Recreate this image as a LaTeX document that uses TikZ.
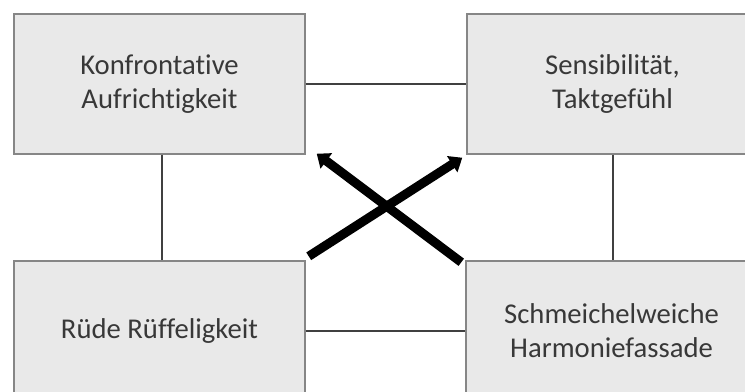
\documentclass[tikz,border=0pt]{standalone}
\usepackage{fontspec}
\setmainfont{Carlito}[Ligatures=NoCommon]
\usetikzlibrary{arrows.meta}
\tikzset{
  feld/.style={draw=gray!95, line width=1.1pt, fill=gray!17, inner sep=0pt,
    minimum width=218.25pt, minimum height=105pt, align=center,
    text=black!78, font=\fontsize{21.5}{25.5}\selectfont},
  verb/.style={draw=black!75, line width=0.8pt},
  kreuz/.style={line width=6.8pt, -{Triangle[length=9pt,width=14pt]}}
}
\begin{document}
\begin{tikzpicture}[x=0.75pt, y=-0.75pt]
\useasboundingbox (0,0) rectangle (745,392);
\clip (0,0) rectangle (745,392);
\node[feld] (konf) at (159.5,84){Konfrontative\\Aufrichtigkeit};
\node[feld] (takt) at (612.5,84){Sensibilität,\\Taktgefühl};
\node[feld] (ruede) at (159.5,331){Rüde Rüffeligkeit};
\node[feld] (harm) at (611.5,331){Schmeichelweiche\\Harmoniefassade};
\draw[verb](konf) -- (takt);
\draw[verb](ruede) -- (harm);
\draw[verb](konf.south -| 162,0) -- (ruede.north -| 162,0);
\draw[verb](takt.south -| 613,0) -- (harm.north -| 613,0);
\draw[kreuz]([shift={(3,-4)}]ruede.north east) -- ([shift={(-4,3)}]takt.south west);
\draw[kreuz]([shift={(-4,2)}]harm.north west) -- ([shift={(11,-1)}]konf.south east);
\end{tikzpicture}
\end{document}
